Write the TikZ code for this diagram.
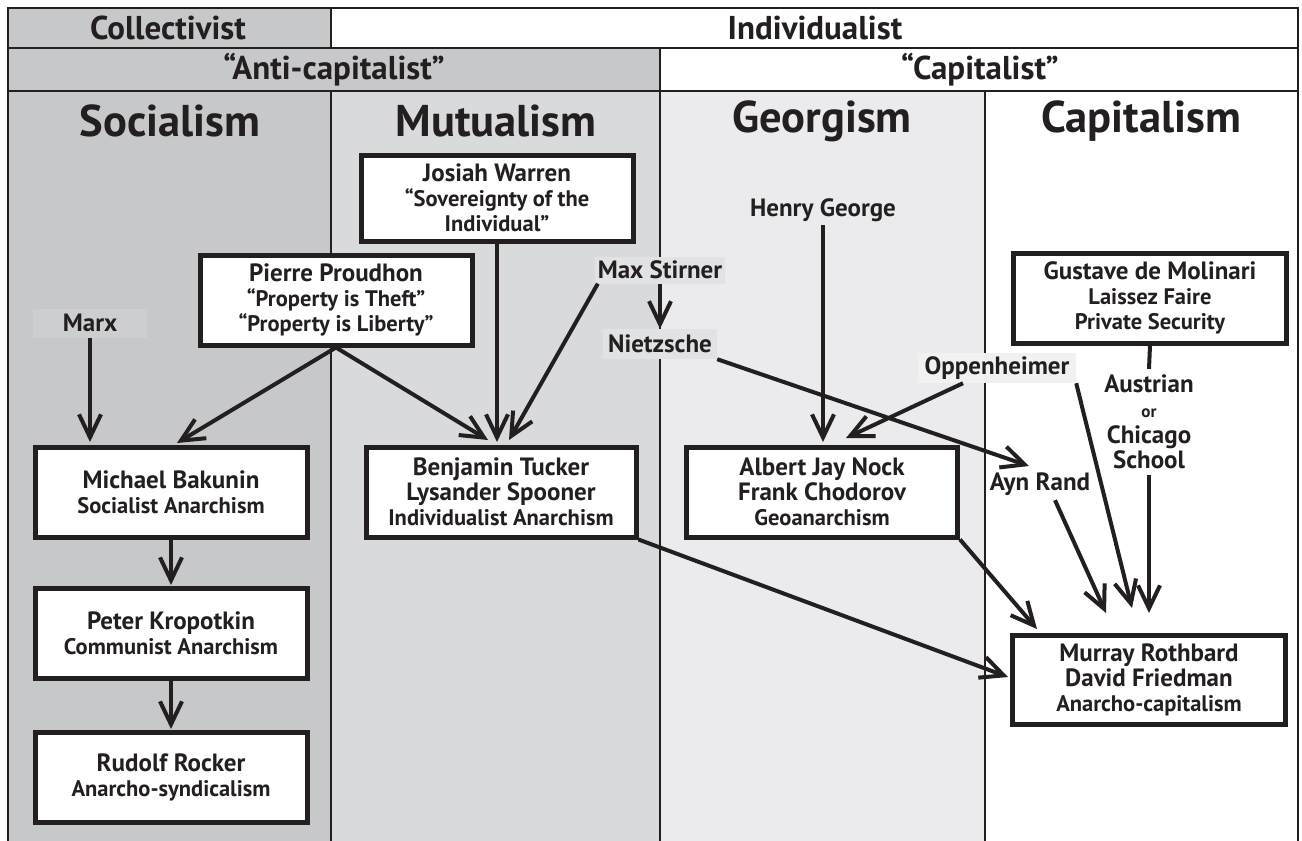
\documentclass[tikz,border=0pt]{standalone}
\usepackage{fontspec}
\setmainfont{PT Sans}
\usetikzlibrary{arrows.meta}
\definecolor{ink}{HTML}{231F20}
\definecolor{socg}{HTML}{C7C8CA}
\definecolor{mutg}{HTML}{D9DADC}
\definecolor{geog}{HTML}{EBEBED}
\definecolor{lblg}{HTML}{E1E2E4}
\definecolor{oppg}{HTML}{F1F1F2}
\definecolor{marxg}{HTML}{CDCECF}
\newcommand\subt[1]{{\fontsize{22.5}{25}\selectfont #1}}
\begin{document}
\begin{tikzpicture}[x=1pt,y=-1pt,
  box/.style={draw=ink, line width=5pt, fill=white, minimum width=272pt, minimum height=90pt, inner sep=0pt, align=center, text=ink, font=\bfseries\fontsize{25}{25}\selectfont},
  lbl/.style={inner sep=0pt, text=ink, align=center, font=\bfseries\fontsize{25}{25.5}\selectfont},
  head/.style={text=ink, font=\bfseries\fontsize{44.5}{48}\selectfont},
  rowt/.style={text=ink, font=\bfseries\fontsize{33}{36}\selectfont},
  arr/.style={draw=ink, line width=4pt, -{Straight Barb[length=23pt,width=22pt]}},
  link/.style={draw=ink, line width=4pt},
  gridl/.style={draw=ink, line width=2.5pt}]
\useasboundingbox (0,0) rectangle (1302,841);
% backgrounds
\fill[socg] (8,91) rectangle (331,841);
\fill[mutg] (331,91) rectangle (660,841);
\fill[geog] (660,91) rectangle (985,841);
\fill[socg] (8,8) rectangle (331,48);
\fill[socg] (8,48) rectangle (660,91);
% grid
\draw[gridl] (8,841) -- (8,8) -- (1298,8) -- (1298,841);
\draw[gridl] (8,48) -- (1298,48);
\draw[gridl] (8,91) -- (1298,91);
\draw[gridl] (331,8) -- (331,48);
\draw[gridl] (331,91) -- (331,841);
\draw[gridl] (660,48) -- (660,841);
\draw[gridl] (985,91) -- (985,841);
% header texts
\node[rowt] (hcol) at (168,28) {Collectivist};
\node[rowt] (hind) at (815,28) {Individualist};
\node[rowt] (hanti) at (334,70) {“Anti-capitalist”};
\node[rowt] (hcapt) at (980,70) {“Capitalist”};
\node[head] (hsoc) at (170,121) {Socialism};
\node[head] (hmut) at (496,121) {Mutualism};
\node[head] (hgeo) at (822,121) {Georgism};
\node[head] (hcap) at (1141,121) {Capitalism};
% boxes
\node[box, minimum height=86pt] (warren) at (497,198) {Josiah Warren\\\subt{“Sovereignty of the}\\\subt{Individual”}};
\node[box] (proudhon) at (336,300) {Pierre Proudhon\\\subt{“Property is Theft”}\\\subt{“Property is Liberty”}};
\node[box] (bakunin) at (171,492) {Michael Bakunin\\\subt{Socialist Anarchism}};
\node[box] (kropotkin) at (171,633) {Peter Kropotkin\\\subt{Communist Anarchism}};
\node[box] (rocker) at (171,777) {Rudolf Rocker\\\subt{Anarcho-syndicalism}};
\node[box, minimum width=270pt] (tucker) at (501,492) {Benjamin Tucker\\Lysander Spooner\\\subt{Individualist Anarchism}};
\node[box, minimum width=271pt] (nock) at (822,492) {Albert Jay Nock\\Frank Chodorov\\\subt{Geoanarchism}};
\node[box, minimum width=273pt] (molinari) at (1150,298) {Gustave de Molinari\\\subt{Laissez Faire}\\\subt{Private Security}};
\node[box, minimum width=273pt, minimum height=89pt] (rothbard) at (1149,680) {Murray Rothbard\\David Friedman\\\subt{Anarcho-capitalism}};
% labels
\node[lbl, fill=marxg, minimum width=114pt, minimum height=29pt] (marx) at (90,323) {Marx};
\node[lbl, fill=lblg, minimum width=130pt, minimum height=27pt] (stirner) at (660,270) {Max Stirner};
\node[lbl, fill=lblg, minimum width=114pt, minimum height=30pt] (nietzsche) at (660,344) {Nietzsche};
\node[lbl, fill=oppg, minimum width=158pt, minimum height=30pt] (opp) at (997,368) {Oppenheimer};
\node[lbl, fill=white, minimum width=107pt, minimum height=32pt] (aynrand) at (1040,484) {Ayn Rand};
\node[lbl, minimum height=30pt] (henry) at (823,210) {Henry George};
\node[lbl, fill=white, inner ysep=5.5pt] (austrian) at (1149,422) {Austrian\\{\fontsize{17}{25.5}\selectfont or}\\Chicago\\School};
% tip coordinates
\coordinate (tOppNock) at (846,438);
\coordinate (tNiet) at (1029,466);
\coordinate (tAyn) at (1106,613);
\coordinate (tOpp) at (1132,608);
\coordinate (tAus) at (1149,613);
\coordinate (tNock) at (1037,629);
\coordinate (tTuck) at (1008,677);
\coordinate (tStirTuck) at (509,440);
\coordinate (tProTuck) at (488,440);
\coordinate (tProBak) at (177,443);
% connectors
\draw[arr] (marx.south) -- (marx.south |- 0,442);
\draw[arr] (proudhon.south) -- (tProBak);
\draw[arr] (proudhon.south) -- (tProTuck);
\draw[arr] (warren.south) -- (warren.south |- 0,442);
\draw[arr] ([xshift=3pt]stirner.south west) -- (tStirTuck);
\draw[arr] (stirner.south) -- (nietzsche.north);
\draw[arr] (henry.south) -- (henry.south |- 0,442);
\draw[arr] ([xshift=-34pt]opp.south) -- (tOppNock);
\draw[arr] (nietzsche.south east) -- (tNiet);
\draw[arr] ([xshift=15pt]aynrand.south) -- (tAyn);
\draw[arr] (opp.south east) -- (tOpp);
\draw[link] (molinari.south) -- (austrian.north);
\draw[arr] (austrian.south) -- (tAus);
\draw[arr] (nock.south east) -- (tNock);
\draw[arr] (tucker.south east) -- (tTuck);
\draw[arr] (bakunin.south) -- (bakunin.south |- 0,585);
\draw[arr] (kropotkin.south) -- (kropotkin.south |- 0,729);
\end{tikzpicture}
\end{document}
